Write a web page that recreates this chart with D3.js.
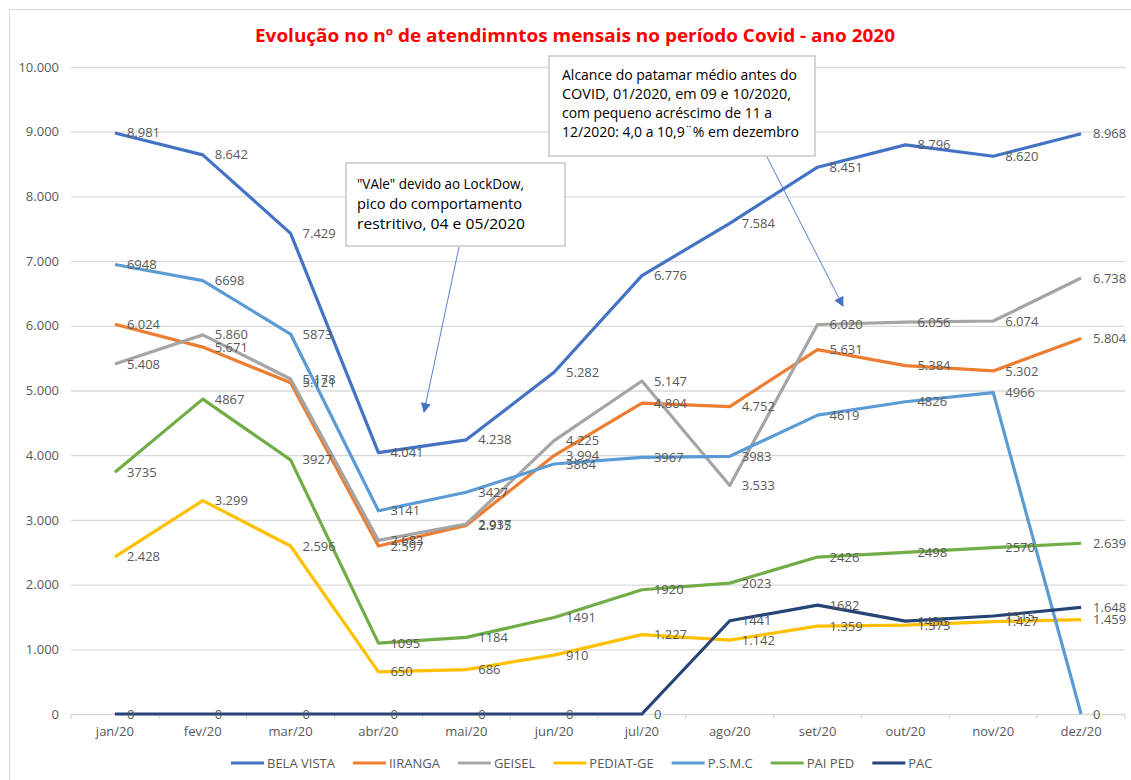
<!DOCTYPE html>
<html>
<head>
<meta charset="utf-8">
<script src="https://cdn.jsdelivr.net/npm/d3@7"></script>
<style>
  body { margin: 0; background: #fff; }
  svg { display: block; font-family: "Open Sans", sans-serif; }
</style>
</head>
<body>
<svg width="1131" height="780"></svg>
<script>
const months = ['jan/20', 'fev/20', 'mar/20', 'abr/20', 'mai/20', 'jun/20', 'jul/20', 'ago/20', 'set/20', 'out/20', 'nov/20', 'dez/20'];
const seriesNames = ['BELA VISTA', 'IIRANGA', 'GEISEL', 'PEDIAT-GE', 'P.S.M.C', 'PAI PED', 'PAC'];
const seriesColors = ['#4472C4', '#ED7D31', '#A5A5A5', '#FFC000', '#5B9BD5', '#70AD47', '#264478'];

const belaVista = [8981, 8642, 7429, 4041, 4238, 5282, 6776, 7584, 8451, 8796, 8620, 8968];
const iiranga   = [6024, 5671, 5121, 2597, 2915, 3994, 4804, 4752, 5631, 5384, 5302, 5804];
const geisel    = [5408, 5860, 5178, 2683, 2937, 4225, 5147, 3533, 6020, 6056, 6074, 6738];
const pediatGe  = [2428, 3299, 2596, 650, 686, 910, 1227, 1142, 1359, 1373, 1427, 1459];
const psmc      = [6948, 6698, 5873, 3141, 3427, 3864, 3967, 3983, 4619, 4826, 4966, 0];
const paiPed    = [3735, 4867, 3927, 1095, 1184, 1491, 1920, 2023, 2426, 2498, 2570, 2639];
const pac       = [0, 0, 0, 0, 0, 0, 0, 1441, 1682, 1436, 1515, 1648];

// labels of these series were typed without the thousands dot (except dez)
const plainLabels = ['P.S.M.C', 'PAI PED', 'PAC'];
const yTicks = [0, 1000, 2000, 3000, 4000, 5000, 6000, 7000, 8000, 9000, 10000];

const titleText = 'Evolução no nº de atendimntos mensais no período Covid - ano 2020';
const note1 = ['"VAle" devido ao LockDow,', 'pico do comportamento', 'restritivo, 04 e 05/2020'];
const note2 = ['Alcance do patamar médio antes do', 'COVID, 01/2020, em 09 e 10/2020,', 'com pequeno acréscimo de 11 a', '12/2020: 4,0 a 10,9¨% em dezembro'];

const allSeries = [belaVista, iiranga, geisel, pediatGe, psmc, paiPed, pac];

const svg = d3.select('svg');
const ptBR = d3.formatLocale({ decimal: ',', thousands: '.', grouping: [3], currency: ['R$', ''] });
const fmt = ptBR.format(',d');

const plotLeft = 71, plotRight = 1125, plotTop = 67, plotBottom = 714;

const x = d3.scaleBand().domain(months).range([plotLeft, plotRight]);
const y = d3.scaleLinear().domain([0, 10000]).range([plotBottom, plotTop]);
const cx = m => x(m) + x.bandwidth() / 2;

// outer frame
svg.append('rect')
    .attr('x', 9.5).attr('y', 9.5)
    .attr('width', 1140).attr('height', 800)
    .attr('fill', 'none')
    .attr('stroke', '#d9d9d9');

// title
svg.append('text')
    .attr('x', 255).attr('y', 42)
    .attr('textLength', 640)
    .attr('lengthAdjust', 'spacingAndGlyphs')
    .style('font-size', '17.5px')
    .style('font-weight', 'bold')
    .attr('fill', '#FF0000')
    .text(titleText);

// y axis + gridlines
const yAxis = svg.append('g')
    .attr('transform', `translate(${plotLeft},0)`)
    .call(d3.axisLeft(y).tickValues(yTicks).tickSize(-(plotRight - plotLeft)).tickPadding(12).tickFormat(fmt));
yAxis.select('.domain').remove();
yAxis.selectAll('line').attr('stroke', '#d9d9d9').attr('stroke-width', 1.3);
yAxis.selectAll('text').attr('fill', '#595959').style('font-size', '13px').style('font-family', '"Open Sans", sans-serif');

// x axis
const xAxis = svg.append('g')
    .attr('transform', `translate(0,${plotBottom})`)
    .call(d3.axisBottom(x).tickSize(0).tickPadding(13));
xAxis.select('.domain').remove();
xAxis.selectAll('text').attr('fill', '#595959').style('font-size', '13px').style('font-family', '"Open Sans", sans-serif');
xAxis.selectAll('.edge')
    .data(d3.range(months.length + 1))
    .enter()
    .append('line')
    .attr('x1', i => plotLeft + i * x.step())
    .attr('x2', i => plotLeft + i * x.step())
    .attr('y1', 0).attr('y2', 5)
    .attr('stroke', '#d9d9d9')
    .attr('stroke-width', 1.3);

// lines
const line = d3.line()
    .x((d, i) => cx(months[i]))
    .y(d => y(d));

const lines = svg.append('g');
allSeries.forEach((vals, s) => {
    lines.append('path')
        .datum(vals)
        .attr('d', line)
        .attr('fill', 'none')
        .attr('stroke', seriesColors[s])
        .attr('stroke-width', 3.2)
        .attr('stroke-linejoin', 'round');
});

// data labels (to the right of each point)
const labels = svg.append('g');
allSeries.forEach((vals, s) => {
    labels.selectAll(null)
        .data(vals)
        .enter()
        .append('text')
        .attr('x', (d, i) => cx(months[i]) + 12)
        .attr('y', d => y(d))
        .attr('dy', '0.35em')
        .attr('fill', '#595959')
        .style('font-size', '13px')
        .text((d, i) => (plainLabels.includes(seriesNames[s]) && i < months.length - 1) ? d : fmt(d));
});

// annotations
const defs = svg.append('defs');
defs.append('marker')
    .attr('id', 'arrow')
    .attr('viewBox', '0 0 10 10')
    .attr('refX', 9).attr('refY', 5)
    .attr('markerWidth', 10).attr('markerHeight', 10)
    .attr('markerUnits', 'userSpaceOnUse')
    .attr('orient', 'auto')
    .append('path')
    .attr('d', 'M0,0 L10,5 L0,10 Z')
    .attr('fill', '#4472C4');

function note(textLines, widths, bx, by, bw, bh, tx, ty, lh) {
    svg.append('rect')
        .attr('x', bx).attr('y', by)
        .attr('width', bw).attr('height', bh)
        .attr('fill', '#fff')
        .attr('stroke', '#bfbfbf')
        .attr('stroke-width', 1.3);
    svg.append('g').selectAll('text')
        .data(textLines)
        .enter()
        .append('text')
        .attr('x', tx)
        .attr('y', (d, i) => ty + i * lh)
        .attr('dy', '0.35em')
        .attr('textLength', (d, i) => widths[i])
        .attr('lengthAdjust', 'spacingAndGlyphs')
        .attr('fill', '#000')
        .style('font-size', '15px')
        .text(d => d);
}

function arrow(x1, y1, x2, y2) {
    svg.append('line')
        .attr('x1', x1).attr('y1', y1)
        .attr('x2', x2).attr('y2', y2)
        .attr('stroke', '#4472C4')
        .attr('stroke-width', 0.9)
        .attr('marker-end', 'url(#arrow)');
}

arrow(459, 247, 424, 412);
arrow(767, 157, 843, 306);
note(note1, [167, 165, 168], 346, 163, 219, 83, 357, 184, 20);
note(note2, [235, 229, 210, 237], 549, 56, 266, 100, 562, 75, 19);

// legend
const legend = svg.append('g').attr('transform', 'translate(231,763)');
let lx = 0;
seriesNames.forEach((name, s) => {
    legend.append('line')
        .attr('x1', lx).attr('x2', lx + 33)
        .attr('y1', 0).attr('y2', 0)
        .attr('stroke', seriesColors[s])
        .attr('stroke-width', 3.2);
    const t = legend.append('text')
        .attr('x', lx + 36)
        .attr('y', 0)
        .attr('dy', '0.35em')
        .attr('fill', '#595959')
        .style('font-size', '13px')
        .text(name);
    lx += 36 + t.node().getComputedTextLength() + 18;
});
</script>
</body>
</html>
